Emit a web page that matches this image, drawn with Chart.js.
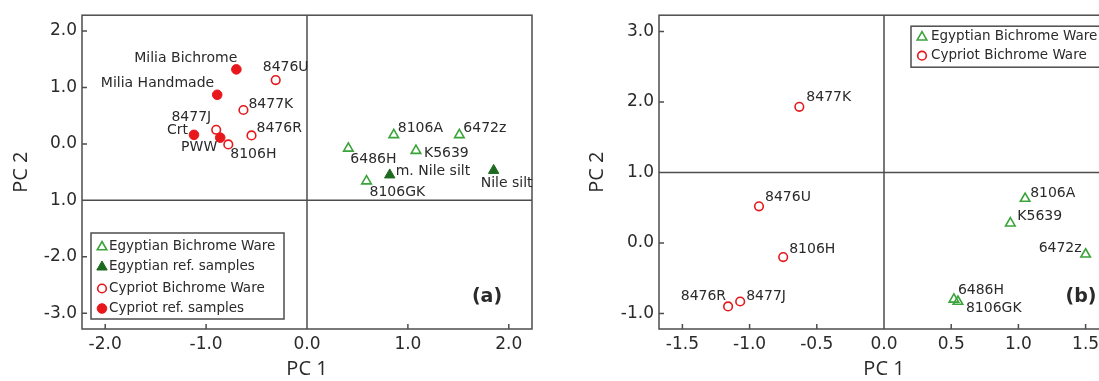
<!DOCTYPE html>
<html>
<head>
<meta charset="utf-8">
<script src="https://cdn.jsdelivr.net/npm/chart.js@4/dist/chart.umd.min.js"></script>
<style>
  html, body { margin: 0; padding: 0; background: #fff; overflow: hidden; }
  #wrap { position: relative; width: 1099px; height: 381px; overflow: hidden; background: #fff; }
  canvas { position: absolute; top: 0; }
  #pca-a { left: 0; }
  #pca-b { left: 575px; }
</style>
</head>
<body>
<div id="wrap">
  <canvas id="pca-a" width="545" height="381"></canvas>
  <canvas id="pca-b" width="547" height="381"></canvas>
</div>
<script>
// ---- Panel (a): PCA scores incl. reference samples ----
const egyptianBWNamesA = ['8106A', '6472z', '6486H', 'K5639', '8106GK'];
const egyptianBWXA = [0.86, 1.51, 0.41, 1.08, 0.59];
const egyptianBWYA = [0.16, 0.16, -0.08, -0.12, -0.66];

const egyptianRefNamesA = ['m. Nile silt', 'Nile silt'];
const egyptianRefXA = [0.82, 1.85];
const egyptianRefYA = [-0.55, -0.47];

const cypriotBWNamesA = ['8476U', '8477K', '8476R', '8477J', '8106H'];
const cypriotBWXA = [-0.31, -0.63, -0.55, -0.90, -0.78];
const cypriotBWYA = [1.13, 0.60, 0.15, 0.25, -0.01];

const cypriotRefNamesA = ['Milia Bichrome', 'Milia Handmade', 'Crt', 'PWW'];
const cypriotRefXA = [-0.70, -0.89, -1.12, -0.86];
const cypriotRefYA = [1.32, 0.87, 0.16, 0.11];

const xTicksA = [-2, -1, 0, 1, 2];
const xTickLabelsA = ['-2.0', '-1.0', '0.0', '1.0', '2.0'];
const yTicksA = [-3, -2, -1, 0, 1, 2];
const yTickLabelsA = ['-3.0', '-2.0', '1.0', '0.0', '1.0', '2.0'];

// ---- Panel (b): PCA scores of the Bichrome Ware only ----
const egyptianBWNamesB = ['8106A', 'K5639', '6472z', '6486H', '8106GK'];
const egyptianBWXB = [1.05, 0.94, 1.50, 0.52, 0.55];
const egyptianBWYB = [0.63, 0.28, -0.16, -0.80, -0.83];

const cypriotBWNamesB = ['8477K', '8476U', '8106H', '8476R', '8477J'];
const cypriotBWXB = [-0.63, -0.93, -0.75, -1.16, -1.07];
const cypriotBWYB = [1.93, 0.52, -0.20, -0.90, -0.83];

const xTicksB = [-1.5, -1, -0.5, 0, 0.5, 1, 1.5];
const xTickLabelsB = ['-1.5', '-1.0', '-0.5', '0.0', '0.5', '1.0', '1.5'];
const yTicksB = [-1, 0, 1, 2, 3];
const yTickLabelsB = ['-1.0', '0.0', '1.0', '2.0', '3.0'];

// ---- styling ----
const TEXT = '#2a2a2a';
const FRAME = '#4d4d4d';
const RED = '#e8171c';
const GREEN = '#3aa33a';
const DARKGREEN = '#1c6b1f';
const FONT = '"DejaVu Sans", Verdana, sans-serif';

// label placement around each point: [dx, dy, align]
const placement = {
  'pca-a': {
    'Milia Bichrome': [1, -11, 'right'],
    'Milia Handmade': [-3, -11, 'right'],
    '8477J': [-5, -12, 'right'],
    'Crt': [-6, -4, 'right'],
    'PWW': [-3, 10, 'right'],
    '8106H': [2, 10, 'left'],
    '8477K': [5, -6, 'left'],
    '8476R': [5, -7, 'left'],
    '8476U': [-13, -13, 'left'],
    '8106A': [4, -6, 'left'],
    '6472z': [4, -6, 'left'],
    '6486H': [2, 11, 'left'],
    'K5639': [8, 3, 'left'],
    'm. Nile silt': [6, -4, 'left'],
    '8106GK': [3, 11, 'left'],
    'Nile silt': [-13, 13, 'left']
  },
  'pca-b': {
    '8477K': [7, -10, 'left'],
    '8476U': [6, -9, 'left'],
    '8106H': [6, -8, 'left'],
    '8476R': [-2, -10, 'right'],
    '8477J': [6, -5, 'left'],
    '8106A': [5, -5, 'left'],
    'K5639': [7, -7, 'left'],
    '6472z': [-4, -6, 'right'],
    '6486H': [4, -9, 'left'],
    '8106GK': [8, 7, 'left']
  }
};

// frame decorations, legend box and panel letter for each canvas
const panelLayout = {
  'pca-a': {
    hLine: -1, letter: '(a)', letterDx: -45, letterY: 297.5,
    legend: { dx: 9, dyFromBottom: -96, w: 193, h: 86, rows: [13, 33, 55.5, 75.5], markerDx: 11, textDx: 18 }
  },
  'pca-b': {
    hLine: 1, letter: '(b)', letterDx: -28, letterY: 297.5,
    legend: { dx: 252, dyFromTop: 11, w: 196, h: 41, rows: [10, 29.5], markerDx: 11, textDx: 20 }
  }
};

function points(xs, ys, names) {
  return xs.map((x, i) => ({ x: x, y: ys[i], name: names[i] }));
}

function marker(ctx, style, r, x, y, fill, stroke, lw) {
  ctx.beginPath();
  if (style === 'triangle') {
    let rad = 0;
    for (let k = 0; k < 3; k++) {
      const px = x + Math.sin(rad) * r, py = y - Math.cos(rad) * r;
      if (k === 0) ctx.moveTo(px, py); else ctx.lineTo(px, py);
      rad += 2 * Math.PI / 3;
    }
    ctx.closePath();
  } else {
    ctx.arc(x, y, r, 0, Math.PI * 2);
  }
  if (fill) { ctx.fillStyle = fill; ctx.fill(); }
  if (stroke && lw) { ctx.strokeStyle = stroke; ctx.lineWidth = lw; ctx.stroke(); }
}

const decor = {
  id: 'decor',
  beforeDatasetsDraw(chart) {
    const L = panelLayout[chart.canvas.id];
    const { ctx, chartArea: a } = chart;
    const xs = chart.scales.x, ys = chart.scales.y;
    ctx.save();
    ctx.strokeStyle = FRAME;
    ctx.lineWidth = 1.5;
    ctx.beginPath();
    const x0 = xs.getPixelForValue(0);
    ctx.moveTo(x0, a.top); ctx.lineTo(x0, a.bottom);
    const yh = ys.getPixelForValue(L.hLine);
    ctx.moveTo(a.left, yh); ctx.lineTo(a.right, yh);
    // inward tick marks on the left and bottom edges
    xs.ticks.forEach(t => {
      const p = xs.getPixelForValue(t.value);
      ctx.moveTo(p, a.bottom); ctx.lineTo(p, a.bottom - 5);
    });
    ys.ticks.forEach(t => {
      const p = ys.getPixelForValue(t.value);
      ctx.moveTo(a.left, p); ctx.lineTo(a.left + 5, p);
    });
    ctx.stroke();
    ctx.strokeRect(a.left, a.top, a.right - a.left, a.bottom - a.top);
    ctx.restore();
  },
  afterDatasetsDraw(chart) {
    const id = chart.canvas.id;
    const L = panelLayout[id];
    const place = placement[id];
    const { ctx, chartArea: a } = chart;
    ctx.save();
    // point labels
    ctx.font = '14px ' + FONT;
    ctx.fillStyle = TEXT;
    ctx.textBaseline = 'middle';
    chart.data.datasets.forEach((ds, di) => {
      const meta = chart.getDatasetMeta(di);
      ds.data.forEach((d, i) => {
        const el = meta.data[i];
        const p = place[d.name] || [5, -6, 'left'];
        ctx.textAlign = p[2];
        ctx.fillText(d.name, el.x + p[0], el.y + p[1]);
      });
    });
    // legend box
    const g = L.legend;
    const bx = a.left + g.dx;
    const by = g.dyFromBottom !== undefined ? a.bottom + g.dyFromBottom : a.top + g.dyFromTop;
    ctx.fillStyle = '#fff';
    ctx.fillRect(bx, by, g.w, g.h);
    ctx.strokeStyle = FRAME;
    ctx.lineWidth = 1.5;
    ctx.strokeRect(bx, by, g.w, g.h);
    ctx.textAlign = 'left';
    ctx.font = '13.5px ' + FONT;
    chart.data.datasets.forEach((ds, di) => {
      const ry = by + g.rows[di];
      marker(ctx, ds.pointStyle, ds.pointRadius, bx + g.markerDx, ry + (ds.pointStyle === 'triangle' ? 1 : 0),
        ds.pointBackgroundColor, ds.pointBorderColor, ds.pointBorderWidth);
      ctx.fillStyle = TEXT;
      ctx.fillText(ds.label, bx + g.textDx, ry);
    });
    // panel letter
    ctx.font = 'bold 19px ' + FONT;
    ctx.textAlign = 'center';
    ctx.fillStyle = TEXT;
    ctx.fillText(L.letter, a.right + L.letterDx, L.letterY);
    ctx.restore();
  }
};

function dataset(label, pts, style, filled, color, r) {
  return {
    label: label,
    data: pts,
    pointStyle: style,
    pointRadius: r,
    pointHoverRadius: r,
    pointBorderWidth: filled ? 1 : 1.6,
    pointBorderColor: color,
    pointBackgroundColor: filled ? color : 'rgba(255,255,255,0)',
    showLine: false
  };
}

function makeChart(id, datasets, xr, yr, xt, xl, yt, yl, yAxisWidth, yTitlePad) {
  return new Chart(document.getElementById(id), {
    type: 'scatter',
    data: { datasets: datasets },
    plugins: [decor],
    options: {
      responsive: false,
      animation: false,
      events: [],
      layout: { padding: { top: 14, right: 13, left: 0, bottom: 0 } },
      plugins: { legend: { display: false }, tooltip: { enabled: false } },
      scales: {
        x: {
          type: 'linear', min: xr[0], max: xr[1],
          grid: { display: false, drawTicks: false },
          border: { display: false },
          afterBuildTicks: s => { s.ticks = xt.map(v => ({ value: v })); },
          afterFit: s => { s.height = 52; },
          ticks: {
            padding: 5, color: TEXT, font: { family: FONT, size: 17 },
            callback: v => xl[xt.indexOf(v)]
          },
          title: {
            display: true, text: 'PC 1', color: TEXT,
            font: { family: '"Open Sans", sans-serif', size: 20 },
            padding: { top: 0, bottom: 0 }
          }
        },
        y: {
          type: 'linear', min: yr[0], max: yr[1],
          grid: { display: false, drawTicks: false },
          border: { display: false },
          afterBuildTicks: s => { s.ticks = yt.map(v => ({ value: v })); },
          afterFit: s => { s.width = yAxisWidth; },
          ticks: {
            padding: 5, color: TEXT, font: { family: FONT, size: 17 },
            callback: v => yl[yt.indexOf(v)]
          },
          title: {
            display: true, text: 'PC 2', color: TEXT,
            font: { family: '"Open Sans", sans-serif', size: 20 },
            padding: { top: yTitlePad, bottom: 0 }
          }
        }
      }
    }
  });
}

makeChart('pca-a', [
  dataset('Egyptian Bichrome Ware', points(egyptianBWXA, egyptianBWYA, egyptianBWNamesA), 'triangle', false, GREEN, 5.5),
  dataset('Egyptian ref. samples', points(egyptianRefXA, egyptianRefYA, egyptianRefNamesA), 'triangle', true, DARKGREEN, 6),
  dataset('Cypriot Bichrome Ware', points(cypriotBWXA, cypriotBWYA, cypriotBWNamesA), 'circle', false, RED, 4.3),
  dataset('Cypriot ref. samples', points(cypriotRefXA, cypriotRefYA, cypriotRefNamesA), 'circle', true, RED, 4.8)
], [-2.23, 2.23], [-3.28, 2.28], xTicksA, xTickLabelsA, yTicksA, yTickLabelsA, 82, 9);

makeChart('pca-b', [
  dataset('Egyptian Bichrome Ware', points(egyptianBWXB, egyptianBWYB, egyptianBWNamesB), 'triangle', false, GREEN, 5.5),
  dataset('Cypriot Bichrome Ware', points(cypriotBWXB, cypriotBWYB, cypriotBWNamesB), 'circle', false, RED, 4.3)
], [-1.674, 1.674], [-1.22, 3.23], xTicksB, xTickLabelsB, yTicksB, yTickLabelsB, 84, 10);
</script>
</body>
</html>
